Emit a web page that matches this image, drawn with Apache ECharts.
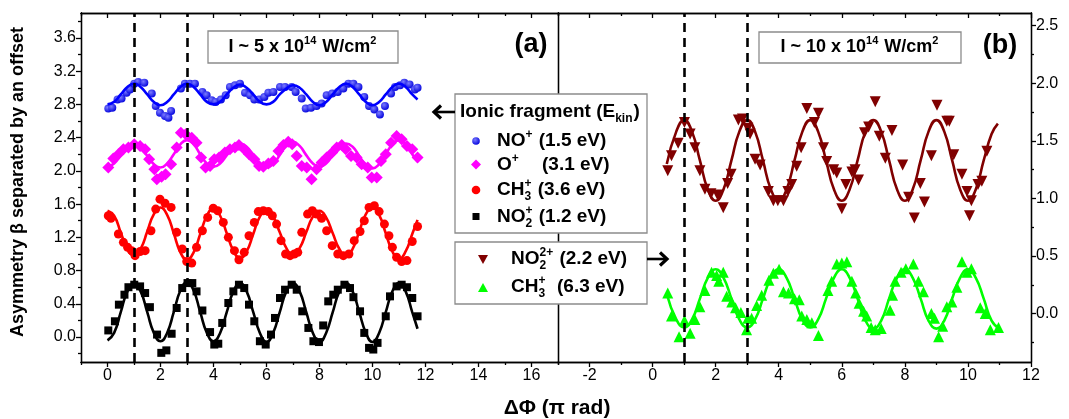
<!DOCTYPE html>
<html><head><meta charset="utf-8">
<script src="https://cdn.jsdelivr.net/npm/echarts@6/dist/echarts.min.js"></script>
<style>html,body{margin:0;padding:0;background:#fff}#c{width:1069px;height:419px}</style>
</head><body><div id="c"></div>
<script>
// ---------- tick values ----------
const xLabelsA = [0, 2, 4, 6, 8, 10, 12, 14, 16];
const xMinorA = [-1, 1, 3, 5, 7, 9, 11, 13, 15, 17];
const xLabelsB = [-2, 0, 2, 4, 6, 8, 10, 12];
const xMinorB = [-3, -1, 1, 3, 5, 7, 9, 11];
const yLabelsA = [0.0, 0.4, 0.8, 1.2, 1.6, 2.0, 2.4, 2.8, 3.2, 3.6];
const yMinorA = [-0.2, 0.2, 0.6, 1.0, 1.4, 1.8, 2.2, 2.6, 3.0, 3.4, 3.8];
const yLabelsB = [0.0, 0.5, 1.0, 1.5, 2.0, 2.5];
const yMinorB = [-0.25, 0.25, 0.75, 1.25, 1.75, 2.25];
const dashedX = [1, 3];

// ---------- panel (a) data ----------
const noPlusPts = [[0.03,2.75],[0.18,2.76],[0.38,2.86],[0.53,2.87],[0.72,2.94],[0.85,2.98],[1.01,3.05],[1.16,3.07],[1.39,3.06],[1.67,2.93],[1.82,2.78],[1.98,2.70],[2.17,2.66],[2.30,2.64],[2.40,2.72],[2.77,2.99],[2.92,3.05],[3.11,3.05],[3.30,3.05],[3.58,2.95],[3.74,2.91],[3.93,2.85],[4.08,2.83],[4.28,2.86],[4.46,2.91],[4.62,3.01],[4.81,3.03],[5.00,3.05],[5.19,2.94],[5.38,2.91],[5.54,2.86],[5.72,2.86],[5.92,2.89],[6.07,2.94],[6.26,2.95],[6.51,3.01],[6.70,3.01],[6.95,3.01],[7.10,2.95],[7.33,2.87],[7.48,2.75],[7.68,2.76],[7.89,2.78],[8.08,2.81],[8.27,2.91],[8.48,2.93],[8.69,2.95],[8.90,2.99],[9.09,3.05],[9.28,3.05],[9.47,3.01],[9.69,2.89],[9.87,2.78],[10.07,2.74],[10.28,2.68],[10.47,2.78],[10.70,2.93],[10.85,3.01],[11.04,3.03],[11.2,3.06],[11.4,3.04],[11.6,2.98],[11.7,3.00]];
const noPlusFit = [[0.0,2.80],[0.25,2.83],[0.5,2.92],[0.75,3.01],[1.0,3.05],[1.25,3.01],[1.5,2.92],[1.75,2.83],[2.0,2.79],[2.25,2.83],[2.5,2.92],[2.75,3.01],[3.0,3.05],[3.25,3.01],[3.5,2.92],[3.75,2.83],[4.0,2.80],[4.25,2.83],[4.5,2.92],[4.75,3.00],[5.0,3.04],[5.25,3.00],[5.5,2.92],[5.75,2.83],[6.0,2.80],[6.25,2.83],[6.5,2.92],[6.75,2.99],[7.0,3.03],[7.25,3.00],[7.5,2.92],[7.75,2.83],[8.0,2.79],[8.25,2.83],[8.5,2.92],[8.75,3.01],[9.0,3.05],[9.25,3.01],[9.5,2.92],[9.75,2.83],[10.0,2.79],[10.25,2.83],[10.5,2.92],[10.75,3.01],[11.0,3.05],[11.25,3.01],[11.5,2.92],[11.7,2.86]];

const oPlusPts = [[0.03,2.04],[0.22,2.15],[0.41,2.20],[0.60,2.26],[0.79,2.28],[1.01,2.32],[1.23,2.30],[1.42,2.26],[1.57,2.14],[1.77,2.02],[1.86,1.90],[2.04,1.93],[2.19,1.96],[2.40,2.08],[2.61,2.28],[2.77,2.46],[2.95,2.44],[3.18,2.40],[3.36,2.34],[3.53,2.16],[3.70,2.04],[3.87,2.06],[4.03,2.14],[4.21,2.16],[4.43,2.22],[4.62,2.26],[4.81,2.28],[4.96,2.31],[5.16,2.26],[5.34,2.20],[5.54,2.14],[5.72,2.06],[5.88,2.05],[6.07,2.09],[6.26,2.12],[6.45,2.24],[6.64,2.31],[6.82,2.35],[6.97,2.32],[7.14,2.18],[7.33,2.06],[7.52,2.04],[7.70,1.90],[7.89,2.02],[8.08,2.10],[8.27,2.16],[8.48,2.22],[8.65,2.28],[8.84,2.31],[8.99,2.26],[9.19,2.18],[9.40,2.16],[9.59,2.08],[9.82,2.04],[9.97,1.92],[10.16,1.92],[10.32,2.12],[10.50,2.20],[10.70,2.34],[10.91,2.42],[11.10,2.38],[11.3,2.30],[11.5,2.26],[11.7,2.16]];
const oPlusFit = [[0.0,2.05],[0.25,2.09],[0.5,2.19],[0.75,2.29],[1.0,2.32],[1.25,2.28],[1.5,2.18],[1.75,2.08],[2.0,2.04],[2.25,2.09],[2.5,2.20],[2.75,2.32],[3.0,2.37],[3.25,2.32],[3.5,2.20],[3.75,2.09],[4.0,2.05],[4.25,2.09],[4.5,2.19],[4.75,2.29],[5.0,2.33],[5.25,2.29],[5.5,2.19],[5.75,2.08],[6.0,2.04],[6.25,2.08],[6.5,2.19],[6.75,2.31],[7.0,2.35],[7.25,2.30],[7.5,2.19],[7.75,2.09],[8.0,2.05],[8.25,2.09],[8.5,2.19],[8.75,2.29],[9.0,2.33],[9.25,2.29],[9.5,2.18],[9.75,2.07],[10.0,2.03],[10.25,2.08],[10.5,2.20],[10.75,2.32],[11.0,2.37],[11.25,2.32],[11.5,2.20],[11.7,2.11]];

const ch3Pts = [[0.03,1.46],[0.13,1.43],[0.41,1.24],[0.60,1.14],[0.76,1.08],[0.91,1.04],[1.04,0.98],[1.23,1.03],[1.42,1.04],[1.64,1.28],[1.82,1.54],[1.98,1.66],[2.17,1.61],[2.40,1.56],[2.61,1.26],[2.82,1.06],[2.99,0.91],[3.18,0.89],[3.36,1.08],[3.58,1.28],[3.78,1.44],[3.99,1.55],[4.16,1.52],[4.37,1.38],[4.56,1.20],[4.79,1.04],[4.96,0.93],[5.16,1.02],[5.34,1.22],[5.54,1.38],[5.69,1.51],[5.88,1.52],[6.07,1.51],[6.22,1.46],[6.38,1.36],[6.55,1.16],[6.72,1.00],[6.89,0.98],[7.05,1.00],[7.18,1.02],[7.33,1.26],[7.55,1.48],[7.73,1.52],[7.89,1.48],[8.08,1.43],[8.27,1.28],[8.48,1.10],[8.69,1.00],[8.90,0.98],[9.11,1.00],[9.31,1.16],[9.53,1.27],[9.69,1.40],[9.87,1.56],[10.07,1.58],[10.25,1.51],[10.45,1.36],[10.62,1.22],[10.75,1.08],[10.91,0.96],[11.10,0.91],[11.3,0.92],[11.5,1.15],[11.7,1.33]];
const ch3Fit = [[0.0,1.52],[0.25,1.46],[0.5,1.26],[0.75,1.06],[1.0,0.98],[1.25,1.06],[1.5,1.27],[1.75,1.48],[2.0,1.56],[2.25,1.47],[2.5,1.25],[2.75,1.02],[3.0,0.93],[3.25,1.02],[3.5,1.24],[3.75,1.46],[4.0,1.55],[4.25,1.46],[4.5,1.25],[4.75,1.04],[5.0,0.95],[5.25,1.03],[5.5,1.24],[5.75,1.45],[6.0,1.53],[6.25,1.45],[6.5,1.26],[6.75,1.07],[7.0,0.99],[7.25,1.07],[7.5,1.26],[7.75,1.45],[8.0,1.52],[8.25,1.44],[8.5,1.25],[8.75,1.06],[9.0,0.98],[9.25,1.06],[9.5,1.27],[9.75,1.48],[10.0,1.56],[10.25,1.47],[10.5,1.25],[10.75,1.03],[11.0,0.94],[11.25,1.03],[11.5,1.24],[11.7,1.41]];

const no2Pts = [[0.03,0.08],[0.28,0.19],[0.43,0.39],[0.64,0.51],[0.79,0.60],[1.01,0.63],[1.23,0.61],[1.42,0.53],[1.60,0.36],[1.87,0.03],[2.03,-0.19],[2.22,-0.16],[2.42,0.04],[2.61,0.35],[2.82,0.59],[3.02,0.65],[3.20,0.65],[3.36,0.55],[3.58,0.32],[3.87,0.06],[4.03,-0.09],[4.18,-0.08],[4.33,0.17],[4.56,0.41],[4.75,0.55],[4.96,0.63],[5.16,0.59],[5.34,0.39],[5.54,0.19],[5.75,-0.05],[5.97,-0.09],[6.17,0.03],[6.32,0.23],[6.51,0.47],[6.70,0.57],[6.95,0.63],[7.14,0.57],[7.35,0.31],[7.58,0.11],[7.77,-0.05],[7.98,-0.06],[8.14,0.14],[8.33,0.43],[8.52,0.51],[8.69,0.57],[8.94,0.63],[9.15,0.59],[9.28,0.48],[9.53,0.31],[9.69,0.05],[9.87,-0.13],[10.03,-0.15],[10.19,-0.07],[10.50,0.25],[10.66,0.49],[10.91,0.61],[11.10,0.63],[11.3,0.60],[11.5,0.47],[11.7,0.25]];
const no2Fit = [[0.0,-0.04],[0.25,0.05],[0.5,0.30],[0.75,0.55],[1.0,0.64],[1.25,0.55],[1.5,0.30],[1.75,0.05],[2.0,-0.05],[2.25,0.05],[2.5,0.30],[2.75,0.56],[3.0,0.66],[3.25,0.56],[3.5,0.30],[3.75,0.05],[4.0,-0.05],[4.25,0.05],[4.5,0.30],[4.75,0.55],[5.0,0.65],[5.25,0.55],[5.5,0.30],[5.75,0.05],[6.0,-0.06],[6.25,0.05],[6.5,0.30],[6.75,0.55],[7.0,0.65],[7.25,0.55],[7.5,0.30],[7.75,0.05],[8.0,-0.06],[8.25,0.05],[8.5,0.30],[8.75,0.55],[9.0,0.65],[9.25,0.55],[9.5,0.30],[9.75,0.05],[10.0,-0.06],[10.25,0.05],[10.5,0.30],[10.75,0.55],[11.0,0.65],[11.25,0.55],[11.5,0.30],[11.7,0.10]];

// ---------- panel (b) data ----------
const no2DiPts = [[0.48,1.24],[0.60,1.37],[0.81,1.48],[1.01,1.66],[1.19,1.56],[1.34,1.44],[1.50,1.24],[1.66,1.08],[1.85,1.04],[2.06,1.03],[2.24,0.92],[2.38,1.13],[2.49,1.21],[2.72,1.68],[2.85,1.69],[3.02,1.61],[3.09,1.56],[3.25,1.34],[3.41,1.29],[3.67,1.06],[3.83,0.98],[3.97,0.98],[4.15,0.98],[4.29,1.06],[4.41,1.12],[4.57,1.28],[4.71,1.44],[4.89,1.78],[5.13,1.66],[5.26,1.74],[5.42,1.44],[5.52,1.32],[5.74,1.25],[5.84,1.22],[6.00,0.91],[6.13,1.12],[6.32,1.23],[6.42,1.25],[6.53,1.16],[6.72,1.57],[6.85,1.62],[7.06,1.84],[7.19,1.54],[7.38,1.35],[7.59,1.59],[7.93,1.29],[8.12,1.01],[8.30,0.83],[8.49,1.13],[8.62,0.97],[8.84,1.37],[9.02,1.81],[9.33,1.67],[9.41,1.67],[9.55,1.38],[9.81,1.21],[9.97,1.06],[10.05,0.85],[10.11,0.98],[10.32,1.12],[10.44,1.15],[10.60,1.41]];
const no2DiFit = [[0.45,1.30],[0.75,1.58],[1.0,1.68],[1.25,1.58],[1.5,1.33],[1.75,1.08],[2.0,0.98],[2.25,1.08],[2.5,1.33],[2.75,1.58],[3.0,1.68],[3.25,1.58],[3.5,1.33],[3.75,1.08],[4.0,0.98],[4.25,1.08],[4.5,1.33],[4.75,1.58],[5.0,1.68],[5.25,1.58],[5.5,1.33],[5.75,1.08],[6.0,0.98],[6.25,1.08],[6.5,1.33],[6.75,1.58],[7.0,1.68],[7.25,1.58],[7.5,1.33],[7.75,1.08],[8.0,0.98],[8.25,1.08],[8.5,1.33],[8.75,1.58],[9.0,1.68],[9.25,1.58],[9.5,1.33],[9.75,1.08],[10.0,0.98],[10.25,1.08],[10.5,1.33],[10.75,1.56],[10.95,1.65]];

const ch3bPts = [[0.48,0.18],[0.60,-0.02],[0.84,-0.20],[1.01,-0.06],[1.19,-0.17],[1.34,-0.05],[1.50,0.06],[1.66,0.20],[1.87,0.36],[2.03,0.33],[2.10,0.28],[2.24,0.36],[2.35,0.15],[2.51,0.10],[2.63,0.05],[2.80,0.01],[2.98,-0.14],[3.02,-0.04],[3.14,-0.04],[3.30,0.07],[3.46,0.16],[3.69,0.29],[3.83,0.35],[4.01,0.385],[4.15,0.19],[4.31,0.18],[4.50,0.13],[4.65,0.12],[4.73,-0.02],[4.89,-0.05],[5.05,-0.08],[5.26,-0.19],[5.56,0.20],[5.68,0.28],[5.84,0.43],[6.00,0.44],[6.16,0.45],[6.32,0.28],[6.44,0.18],[6.55,0.09],[6.69,0.02],[6.79,-0.02],[6.93,-0.12],[7.06,-0.14],[7.25,-0.13],[7.53,0.03],[7.61,0.16],[7.69,0.28],[7.88,0.36],[8.03,0.39],[8.27,0.43],[8.43,0.28],[8.59,0.19],[8.84,0.00],[8.94,-0.04],[9.07,-0.20],[9.20,-0.11],[9.33,0.06],[9.49,0.10],[9.65,0.23],[9.81,0.45],[9.97,0.36],[10.11,0.39],[10.39,0.05],[10.55,0.00],[10.71,-0.14],[10.97,-0.12]];
const ch3bFit = [[0.45,0.17],[0.75,-0.05],[1.0,-0.12],[1.25,-0.05],[1.5,0.13],[1.75,0.31],[2.0,0.385],[2.25,0.31],[2.5,0.13],[2.75,-0.05],[3.0,-0.12],[3.25,-0.05],[3.5,0.13],[3.75,0.31],[4.0,0.385],[4.25,0.31],[4.5,0.13],[4.75,-0.05],[5.0,-0.12],[5.25,-0.05],[5.5,0.13],[5.75,0.31],[6.0,0.385],[6.25,0.31],[6.5,0.13],[6.75,-0.06],[7.0,-0.13],[7.25,-0.06],[7.5,0.13],[7.75,0.31],[8.0,0.385],[8.25,0.31],[8.5,0.13],[8.75,-0.06],[9.0,-0.13],[9.25,-0.06],[9.5,0.13],[9.75,0.31],[10.0,0.385],[10.25,0.31],[10.5,0.13],[10.75,-0.06],[11.0,-0.13]];

// ---------- rendering ----------
const FONT = '"Liberation Sans", Arial, Helvetica, sans-serif';
const AX = '#000';
const chart = echarts.init(document.getElementById('c'), null, {renderer: 'canvas'});

function xAx(grid, pos, min, max, vals, len, inside, labels) {
  return {type: 'value', gridIndex: grid, position: pos, min: min, max: max,
    axisLine: {show: true, onZero: false, lineStyle: {color: AX, width: 1.3}},
    axisTick: {show: true, inside: inside, length: len, customValues: vals, lineStyle: {color: AX, width: 1.3}},
    axisLabel: labels ? {show: true, customValues: vals, fontSize: 16, color: '#000', fontFamily: FONT, margin: 6} : {show: false},
    splitLine: {show: false}};
}
function yAx(grid, pos, min, max, vals, len, labels, noTick) {
  return {type: 'value', gridIndex: grid, position: pos, min: min, max: max,
    axisLine: {show: true, onZero: false, lineStyle: {color: AX, width: 1.3}},
    axisTick: noTick ? {show: false} : {show: true, inside: false, length: len, customValues: vals, lineStyle: {color: AX, width: 1.3}},
    axisLabel: labels ? {show: true, customValues: vals, fontSize: 16, color: '#000', fontFamily: FONT, margin: 5,
      formatter: v => v.toFixed(1)} : {show: false},
    splitLine: {show: false}};
}

const GA = {left: 81, top: 13, width: 477, height: 349};
const GB = {left: 558, top: 13, width: 473, height: 349};

const xAxes = [
  xAx(0, 'bottom', -1, 17, xLabelsA, 5, false, true),
  xAx(0, 'bottom', -1, 17, xMinorA, 3, false, false),
  xAx(0, 'top', -1, 17, xLabelsA, 5, true, false),
  xAx(0, 'top', -1, 17, xMinorA, 3, true, false),
  xAx(1, 'bottom', -3, 12, xLabelsB, 5, false, true),
  xAx(1, 'bottom', -3, 12, xMinorB, 3, false, false),
  xAx(1, 'top', -3, 12, xLabelsB, 5, true, false),
  xAx(1, 'top', -3, 12, xMinorB, 3, true, false)
];
const yAxes = [
  yAx(0, 'left', -0.3, 3.9, yLabelsA, 5, true),
  yAx(0, 'left', -0.3, 3.9, yMinorA, 3, false),
  yAx(0, 'right', -0.3, 3.9, [], 0, false, true),
  yAx(1, 'right', -0.42, 2.61, yLabelsB, 5, true),
  yAx(1, 'right', -0.42, 2.61, yMinorB, 3, false),
  yAx(1, 'left', -0.42, 2.61, [], 0, false, true)
];

function scat(xi, yi, data, symbol, size, color, rot) {
  return {type: 'scatter', xAxisIndex: xi, yAxisIndex: yi, data: data, symbol: symbol, symbolSize: size,
    symbolRotate: rot || 0, itemStyle: {color: color, opacity: 1}, z: 3, silent: true};
}
function fit(xi, yi, data, color, marks) {
  const s = {type: 'line', xAxisIndex: xi, yAxisIndex: yi, data: data, showSymbol: false, smooth: 0.5,
    lineStyle: {color: color, width: 2.6}, z: 4, silent: true};
  if (marks) {
    s.markLine = {silent: true, symbol: 'none', label: {show: false}, animation: false,
      lineStyle: {type: [9, 6], color: '#000', width: 2.6},
      data: dashedX.map(v => ({xAxis: v}))};
  }
  return s;
}
const blueBall = {type: 'radial', x: 0.38, y: 0.35, r: 0.7,
  colorStops: [{offset: 0, color: '#7a7aff'}, {offset: 1, color: '#0000dd'}]};

const series = [
  scat(0, 0, noPlusPts, 'circle', 8, blueBall),
  fit(0, 0, noPlusFit, '#0000ff'),
  scat(0, 0, oPlusPts, 'diamond', 12, '#ff00ff'),
  fit(0, 0, oPlusFit, '#ff00ff'),
  scat(0, 0, ch3Pts, 'circle', 9, '#ff0000'),
  fit(0, 0, ch3Fit, '#ff0000'),
  scat(0, 0, no2Pts, 'rect', 8, '#000000'),
  fit(0, 0, no2Fit, '#000000', true),
  scat(4, 3, no2DiPts, 'triangle', 11, '#800000', 180),
  fit(4, 3, no2DiFit, '#800000'),
  scat(4, 3, ch3bPts, 'triangle', 11, '#00ff00'),
  fit(4, 3, ch3bFit, '#00ff00', true)
];

// ---------- text helpers ----------
const mctx = document.createElement('canvas').getContext('2d');
function tw(t, size, weight) { mctx.font = (weight || 'bold') + ' ' + size + 'px ' + FONT; return mctx.measureText(t).width; }
function txt(x, y, t, size, weight, align) {
  return {type: 'text', x: x, y: y, silent: true, z: 20,
    style: {text: t, fontSize: size, fontWeight: weight || 'bold', fontFamily: FONT, fill: '#000',
      align: align || 'left', verticalAlign: 'middle', textAlign: align || 'left', textVerticalAlign: 'middle'}};
}
function richRow(x, y, parts, size, anchor) {
  const small = Math.round(size * 0.62);
  let w = 0; const placed = [];
  parts.forEach(p => {
    if (typeof p === 'string') { placed.push({t: p, dx: w, dy: 0, s: size}); w += tw(p, size); }
    else {
      let mw = 0;
      if (p.sup) { placed.push({t: p.sup, dx: w, dy: -size * 0.33, s: small}); mw = Math.max(mw, tw(p.sup, small)); }
      if (p.sub) { placed.push({t: p.sub, dx: w, dy: size * 0.36, s: small}); mw = Math.max(mw, tw(p.sub, small)); }
      w += mw + 1;
    }
  });
  const x0 = anchor === 'center' ? x - w / 2 : x;
  return placed.map(q => txt(x0 + q.dx, y + q.dy, q.t, q.s, 'bold'));
}
function boxEl(x, y, w, h) {
  return {type: 'rect', shape: {x: x, y: y, width: w, height: h}, z: 15, silent: true,
    style: {fill: '#fff', stroke: '#8c8c8c', lineWidth: 1.3}};
}
function arrow(x1, x2, y) {
  const d = x2 > x1 ? -1 : 1;
  return [
    {type: 'line', shape: {x1: x1, y1: y, x2: x2, y2: y}, z: 16, style: {stroke: '#000', lineWidth: 2.6}},
    {type: 'polyline', shape: {points: [[x2 + d * 7, y - 6.5], [x2, y], [x2 + d * 7, y + 6.5]]}, z: 16,
      style: {stroke: '#000', lineWidth: 3.2, fill: null}}
  ];
}

const LS = 19;
const gfx = [];
// axis titles
gfx.push({type: 'text', x: 18, y: 182, rotation: Math.PI / 2, silent: true,
  style: {text: 'Asymmetry β separated by an offset', fontSize: 18, fontWeight: 'bold', fontFamily: FONT, fill: '#000',
    align: 'center', verticalAlign: 'middle', textAlign: 'center', textVerticalAlign: 'middle'}});
gfx.push(txt(557, 408, 'ΔΦ (π rad)', 21, 'bold', 'center'));
// panel labels
gfx.push(txt(531, 45, '(a)', 27, 'bold', 'center'));
gfx.push(txt(1000, 46, '(b)', 27, 'bold', 'center'));
// intensity boxes
gfx.push(boxEl(208, 31, 190, 32));
gfx.push(...richRow(303, 47, ['I ~ 5 x 10', {sup: '14'}, ' W/cm', {sup: '2'}], 18, 'center'));
gfx.push(boxEl(759, 32, 202, 31));
gfx.push(...richRow(860, 47, ['I ~ 10 x 10', {sup: '14'}, ' W/cm', {sup: '2'}], 18, 'center'));
// legend box 1
gfx.push(boxEl(455, 94, 192, 139));
gfx.push(...richRow(460, 112, ['Ionic fragment (E', {sub: 'kin'}, ')'], LS));
gfx.push({type: 'circle', shape: {cx: 476, cy: 141, r: 3.8}, z: 16, style: {fill: blueBall}});
gfx.push(...richRow(497, 141, ['NO', {sup: '+'}, ' (1.5 eV)'], LS));
gfx.push({type: 'polygon', shape: {points: [[476, 159.5], [481, 164.5], [476, 169.5], [471, 164.5]]}, z: 16, style: {fill: '#ff00ff'}});
gfx.push(...richRow(497, 164.5, ['O', {sup: '+'}], LS));
gfx.push(txt(542, 164.5, '(3.1 eV)', LS, 'bold'));
gfx.push({type: 'circle', shape: {cx: 476, cy: 190, r: 4.3}, z: 16, style: {fill: '#ff0000'}});
gfx.push(...richRow(497, 190, ['CH', {sup: '+', sub: '3'}, ' (3.6 eV)'], LS));
gfx.push({type: 'rect', shape: {x: 472.5, y: 213, width: 7, height: 7}, z: 16, style: {fill: '#000'}});
gfx.push(...richRow(497, 216.5, ['NO', {sup: '+', sub: '2'}, ' (1.2 eV)'], LS));
// legend box 2
gfx.push(boxEl(455, 242, 192, 62));
gfx.push({type: 'polygon', shape: {points: [[478, 255], [488, 255], [483, 264]]}, z: 16, style: {fill: '#800000'}});
gfx.push(...richRow(511, 259, ['NO', {sup: '2+', sub: '2'}, ' (2.2 eV)'], LS));
gfx.push({type: 'polygon', shape: {points: [[478, 292], [488, 292], [483, 283]]}, z: 16, style: {fill: '#00ff00'}});
gfx.push(...richRow(511, 287, ['CH', {sup: '+', sub: '3'}], LS));
gfx.push(txt(557, 287, '(6.3 eV)', LS, 'bold'));
// arrows
gfx.push(...arrow(455, 434, 112));
gfx.push(...arrow(647, 667, 259));

chart.setOption({
  animation: false,
  backgroundColor: '#fff',
  grid: [
    Object.assign({containLabel: false}, GA),
    Object.assign({containLabel: false}, GB)
  ],
  xAxis: xAxes,
  yAxis: yAxes,
  series: series,
  graphic: {elements: gfx}
});
</script>
</body></html>
